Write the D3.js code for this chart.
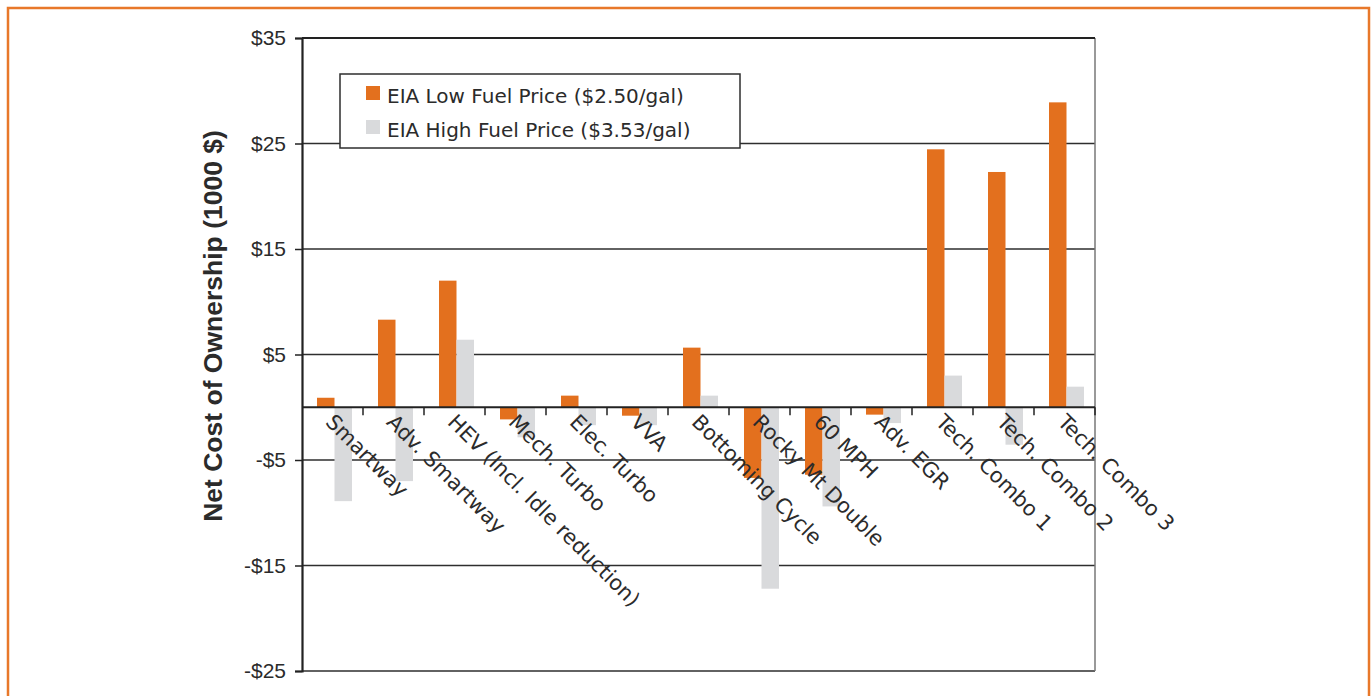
<!DOCTYPE html>
<html>
<head>
<meta charset="utf-8">
<script src="https://cdn.jsdelivr.net/npm/d3@7"></script>
<style>
  html, body { margin: 0; padding: 0; background: #fff; }
  svg { display: block; }
  text { fill: #2b2b2b; }
</style>
</head>
<body>
<svg id="chart" width="1372" height="696"></svg>
<script>
// Technology packages compared
const categories = [
  "Smartway", "Adv. Smartway", "HEV (Incl. Idle reduction)", "Mech. Turbo",
  "Elec. Turbo", "VVA", "Bottoming Cycle", "Rocky Mt Double", "60 MPH",
  "Adv. EGR", "Tech. Combo 1", "Tech. Combo 2", "Tech. Combo 3"
];
// Net cost of ownership, thousands of dollars
const lowFuel  = [0.9, 8.3, 12.0, -1.15, 1.1, -0.8, 5.65, -6.7, -6.4, -0.7, 24.45, 22.3, 28.9];
const highFuel = [-8.9, -7.0, 6.4, -2.85, -1.7, -1.7, 1.1, -17.2, -9.4, -1.5, 3.0, -3.55, 1.95];
const seriesNames = ["EIA Low Fuel Price ($2.50/gal)", "EIA High Fuel Price ($3.53/gal)"];
const seriesColors = ["#e3701e", "#d9dadc"];
const yTicks = [35, 25, 15, 5, -5, -15, -25];

const svg = d3.select("#chart");
const plot = { left: 302, right: 1095, top: 38, bottom: 671 };

// outer orange frame
svg.append("rect")
  .attr("x", 8).attr("y", 8).attr("width", 1361).attr("height", 700)
  .attr("fill", "none").attr("stroke", "#e8782a").attr("stroke-width", 2.5);

const x = d3.scaleBand().domain(categories).range([plot.left, plot.right]).padding(0);
const xs = d3.scaleBand().domain([0, 1]).range([15, 50]).padding(0);
const y = d3.scaleLinear().domain([-25, 35]).range([plot.bottom, plot.top]);

// horizontal grid lines
svg.append("g").selectAll("line").data(yTicks).join("line")
  .attr("x1", plot.left).attr("x2", plot.right)
  .attr("y1", d => y(d)).attr("y2", d => y(d))
  .attr("stroke", "#2e2e2e").attr("stroke-width", 1.4);

// plot right edge
svg.append("line")
  .attr("x1", plot.right).attr("x2", plot.right)
  .attr("y1", plot.top).attr("y2", plot.bottom)
  .attr("stroke", "#777").attr("stroke-width", 1.5);

// bars
const rows = categories.map((c, i) => ({ c, vals: [lowFuel[i], highFuel[i]] }));
const groups = svg.append("g").selectAll("g").data(rows).join("g")
  .attr("transform", d => `translate(${x(d.c)},0)`);
groups.selectAll("rect").data(d => d.vals.map((v, k) => ({ v, k }))).join("rect")
  .attr("x", d => xs(d.k))
  .attr("width", xs.bandwidth())
  .attr("y", d => Math.min(y(d.v), y(0)))
  .attr("height", d => Math.abs(y(d.v) - y(0)))
  .attr("fill", d => seriesColors[d.k]);

// y axis
const yAxis = d3.axisLeft(y).tickValues(yTicks).tickSize(7).tickPadding(9)
  .tickFormat(d => (d < 0 ? "-$" : "$") + Math.abs(d));
const ya = svg.append("g").attr("transform", `translate(${plot.left},0)`).call(yAxis);
ya.select(".domain").attr("stroke", "#222").attr("stroke-width", 2.2);
ya.selectAll(".tick line").attr("stroke", "#222").attr("stroke-width", 1.5);
ya.selectAll(".tick text")
  .style("font-family", "'Liberation Sans', Arial, sans-serif").style("font-size", "21px")
  .attr("fill", "#2b2b2b");

// zero baseline with category ticks
svg.append("line")
  .attr("x1", plot.left).attr("x2", plot.right)
  .attr("y1", y(0)).attr("y2", y(0))
  .attr("stroke", "#222").attr("stroke-width", 2.2);
svg.append("g").selectAll("line").data(categories).join("line")
  .attr("x1", d => x(d) + x.bandwidth())
  .attr("x2", d => x(d) + x.bandwidth())
  .attr("y1", y(0)).attr("y2", y(0) + 8)
  .attr("stroke", "#222").attr("stroke-width", 1.5);

// top border
svg.append("line")
  .attr("x1", plot.left).attr("x2", plot.right)
  .attr("y1", plot.top).attr("y2", plot.top)
  .attr("stroke", "#222").attr("stroke-width", 2);

// rotated category labels
svg.append("g").selectAll("text").data(categories).join("text")
  .attr("transform", d => `translate(${x(d) + x.bandwidth() / 2 - 8},${y(0) + 16}) rotate(45)`)
  .attr("text-anchor", "start")
  .style("font-family", "'DejaVu Sans', sans-serif").style("font-size", "21px")
  .text(d => d);

// y axis title
svg.append("text")
  .attr("transform", "translate(222,326) rotate(-90)")
  .attr("text-anchor", "middle")
  .style("font-family", "'Liberation Sans', Arial, sans-serif")
  .style("font-size", "26.5px").style("font-weight", "bold")
  .text("Net Cost of Ownership (1000 $)");

// legend
const lg = svg.append("g").attr("transform", "translate(340,74)");
lg.append("rect").attr("width", 400).attr("height", 74)
  .attr("fill", "#fff").attr("stroke", "#2e2e2e").attr("stroke-width", 1.5);
const items = lg.selectAll("g.item").data(seriesNames).join("g").attr("class", "item")
  .attr("transform", (d, i) => `translate(26,${12 + i * 34})`);
items.append("rect").attr("width", 14).attr("height", 14)
  .attr("fill", (d, i) => seriesColors[i]);
items.append("text").attr("x", 21).attr("y", 17)
  .style("font-family", "'DejaVu Sans', sans-serif").style("font-size", "20px")
  .text(d => d);
</script>
</body>
</html>
